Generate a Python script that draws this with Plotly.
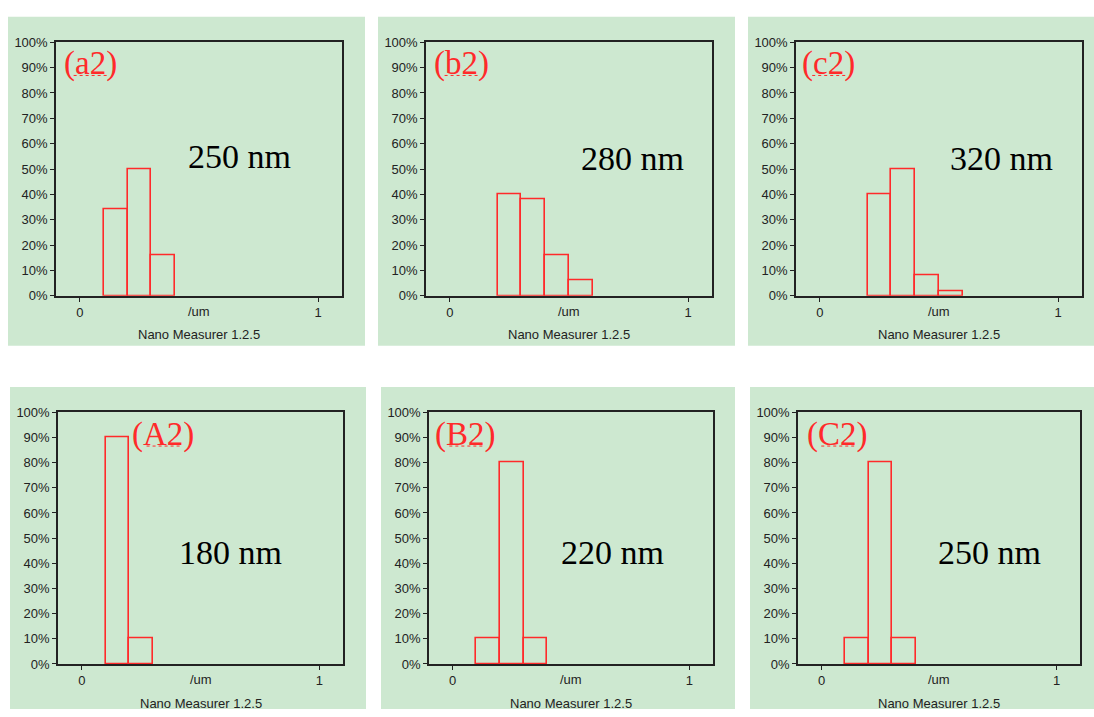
import plotly.graph_objects as go

W, H = 1094, 717

# ---- data ----
panel_labels = ["(a2)", "(b2)", "(c2)", "(A2)", "(B2)", "(C2)"]
size_labels = ["250 nm", "280 nm", "320 nm", "180 nm", "220 nm", "250 nm"]
bin_width = 0.1
a2_start, a2_vals = 0.1, [34, 50, 16]
b2_start, b2_vals = 0.2, [40, 38, 16, 6]
c2_start, c2_vals = 0.2, [40, 50, 8, 2]
A2_start, A2_vals = 0.1, [90, 10]
B2_start, B2_vals = 0.1, [10, 80, 10]
C2_start, C2_vals = 0.1, [10, 80, 10]
starts = [a2_start, b2_start, c2_start, A2_start, B2_start, C2_start]
values = [a2_vals, b2_vals, c2_vals, A2_vals, B2_vals, C2_vals]
y_ticks = list(range(0, 101, 10))
x_ticks = [0, 1]
x_unit = "/um"
footer = "Nano Measurer 1.2.5"

# ---- layout geometry (pixels) ----
panels_px = [(8, 10, 365, 346), (378, 10, 735, 346), (748, 10, 1094, 346),
             (10, 388, 366, 717), (381, 388, 735, 717), (750, 388, 1094, 717)]
plots_px = [(56, 36, 342, 295), (426, 36, 712, 295), (796, 36, 1082, 295),
            (58, 414, 343, 671), (429, 414, 713, 671), (798, 414, 1080, 671)]
label_pos = [(0.044, 91.5), (0.048, 91.5), (0.038, 91.5),
             (0.343, 91.2), (0.056, 91.2), (0.069, 91.2)]
size_pos = [(0.67, 54.8), (0.767, 54.3), (0.763, 54.3),
            (0.626, 44.4), (0.674, 44.4), (0.717, 44.4)]

GREEN = "#CDE8D0"
RED = "#FF2A2A"

def px_x(v):
    return v / W

def px_y(v):
    return 1 - v / H

fig = go.Figure()
shapes = []
annotations = []
layout = {}

for i in range(6):
    n = "" if i == 0 else str(i + 1)
    xa, ya = "x" + n, "y" + n
    px0, py0, px1, py1 = panels_px[i]
    shapes.append(dict(type="rect", xref="paper", yref="paper", layer="below",
                       x0=px_x(px0), x1=px_x(px1), y0=px_y(py1), y1=px_y(py0),
                       fillcolor=GREEN, line=dict(width=0)))
    lx0, ly0, lx1, ly1 = plots_px[i]
    vals = values[i]
    centers = [starts[i] + bin_width * (k + 0.5) for k in range(len(vals))]
    fig.add_trace(go.Bar(x=centers, y=vals, width=bin_width, xaxis=xa, yaxis=ya,
                         marker=dict(color="rgba(0,0,0,0)", line=dict(color=RED, width=1.6)),
                         showlegend=False, hoverinfo="x+y"))
    layout["xaxis" + n] = dict(domain=[px_x(lx0), px_x(lx1)], range=[-0.1, 1.1], anchor=ya,
                               tickvals=x_ticks, ticktext=[str(t) for t in x_ticks],
                               ticks="outside", ticklen=4, tickcolor="#222", showgrid=False,
                               zeroline=False, showline=True, mirror=True, linecolor="#222",
                               linewidth=1.5, tickfont=dict(family="Liberation Sans", size=13, color="#222"),
                               fixedrange=True)
    layout["yaxis" + n] = dict(domain=[px_y(ly1), px_y(ly0)], range=[0, 100], anchor=xa,
                               tickvals=y_ticks, ticktext=[f"{t}%" for t in y_ticks],
                               ticks="outside", ticklen=4, tickcolor="#222", showgrid=False,
                               zeroline=False, showline=True, mirror=True, linecolor="#222",
                               linewidth=1.5, tickfont=dict(family="Liberation Sans", size=13, color="#222"),
                               fixedrange=True)
    # panel label
    lxp, lyp = label_pos[i]
    annotations.append(dict(x=lxp, y=lyp, xref=xa, yref=ya, text=panel_labels[i], showarrow=False,
                            font=dict(family="Liberation Serif", size=33, color=RED),
                            xanchor="center", yanchor="middle"))
    # size label
    sxp, syp = size_pos[i]
    annotations.append(dict(x=sxp, y=syp, xref=xa, yref=ya, text=size_labels[i], showarrow=False,
                            font=dict(family="Liberation Serif", size=34, color="black"),
                            xanchor="center", yanchor="middle"))
    # unit label
    annotations.append(dict(x=0.5, y=px_y(ly1 + 16), xref=xa, yref="paper", text=x_unit,
                            showarrow=False, font=dict(family="Liberation Sans", size=13, color="#222"),
                            xanchor="center", yanchor="middle"))
    # footer
    annotations.append(dict(x=px_x((lx0 + lx1) / 2), y=px_y(ly1 + 40), xref="paper", yref="paper",
                            text=footer, showarrow=False,
                            font=dict(family="Liberation Sans", size=13, color="#222"),
                            xanchor="center", yanchor="middle"))
    # spell-check squiggle under the label letters
    shapes.append(dict(type="line", xref=xa, yref=ya, x0=lxp - 0.07, x1=lxp + 0.07,
                       y0=lyp - 4.6, y1=lyp - 4.6, line=dict(color=RED, width=1, dash="dot")))

fig.update_layout(width=W, height=H, margin=dict(l=0, r=0, t=0, b=0),
                  paper_bgcolor="white", plot_bgcolor=GREEN,
                  shapes=shapes, annotations=annotations, bargap=0, **layout)

fig.write_html("out.html", config={"displayModeBar": False},
               post_script="document.body.style.margin='0';document.body.style.overflow='hidden';")
